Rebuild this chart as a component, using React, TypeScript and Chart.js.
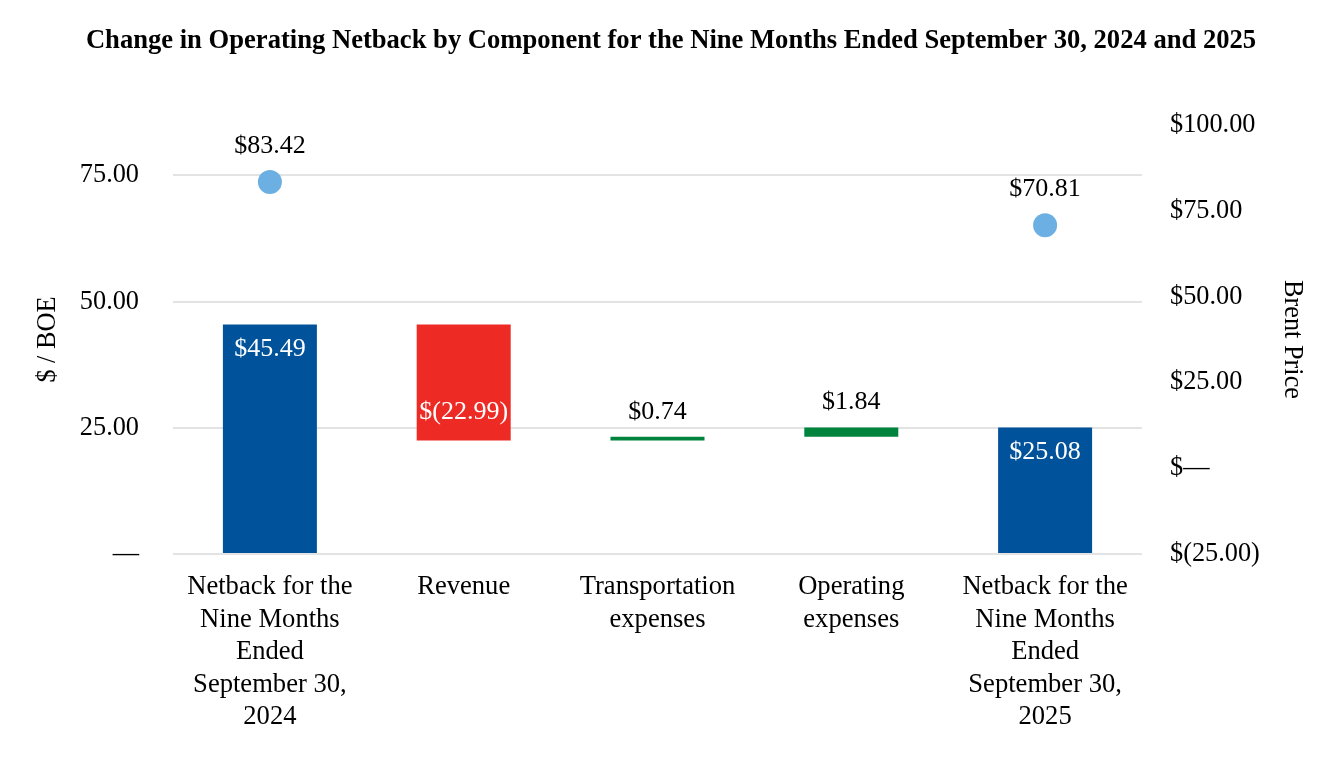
import React, { useEffect, useRef } from "react";
import { Chart, registerables } from "chart.js";

Chart.register(...registerables);

const TITLE = "Change in Operating Netback by Component for the Nine Months Ended September 30, 2024 and 2025";
const categories: string[][] = [
  ["Netback for the", "Nine Months", "Ended", "September 30,", "2024"],
  ["Revenue"],
  ["Transportation", "expenses"],
  ["Operating", "expenses"],
  ["Netback for the", "Nine Months", "Ended", "September 30,", "2025"],
];
const startNetback = 45.49;
const componentChanges = [-22.99, 0.74, 1.84];
const endNetback = 25.08;
const brentPrice: (number | null)[] = [83.42, null, null, null, 70.81];
const barColors = ["#00529B", "#EE2A24", "#00843D", "#00843D", "#00529B"];
const leftTicks = [0, 25, 50, 75];
const rightTicks = [-25, 0, 25, 50, 75, 100];

const FONT = '"Liberation Serif", "Times New Roman", serif';

function fmtMoney(v: number): string {
  if (v === 0) return "$—";
  if (v < 0) return `$(${Math.abs(v).toFixed(2)})`;
  return `$${v.toFixed(2)}`;
}

export default function App() {
  const ref = useRef<HTMLCanvasElement | null>(null);

  useEffect(() => {
    document.body.style.margin = "0";
    const canvas = ref.current;
    if (!canvas) return;

    // floating ranges for the waterfall
    const ranges: [number, number][] = [[0, startNetback]];
    const barValues: number[] = [startNetback];
    let run = startNetback;
    componentChanges.forEach((c) => {
      const next = Math.round((run + c) * 100) / 100;
      ranges.push([Math.min(run, next), Math.max(run, next)]);
      barValues.push(c);
      run = next;
    });
    ranges.push([0, endNetback]);
    barValues.push(endNetback);

    const labelPlugin = {
      id: "labels",
      afterDatasetsDraw(chart: any) {
        const ctx = chart.ctx;
        ctx.save();
        ctx.font = `26px ${FONT}`;
        ctx.textAlign = "center";
        ctx.textBaseline = "middle";
        const barMeta = chart.getDatasetMeta(0);
        barMeta.data.forEach((el: any, i: number) => {
          const top = Math.min(el.y, el.base);
          const bottom = Math.max(el.y, el.base);
          const txt = fmtMoney(barValues[i]);
          if (i === 0 || i === categories.length - 1) {
            ctx.fillStyle = "#ffffff";
            ctx.fillText(txt, el.x, top + 25);
          } else if (barValues[i] < 0) {
            ctx.fillStyle = "#ffffff";
            ctx.fillText(txt, el.x, bottom - 28);
          } else {
            ctx.fillStyle = "#000000";
            ctx.fillText(txt, el.x, top - 25);
          }
        });
        const pMeta = chart.getDatasetMeta(1);
        pMeta.data.forEach((el: any, i: number) => {
          const v = brentPrice[i];
          if (v === null || v === undefined) return;
          ctx.fillStyle = "#000000";
          ctx.fillText(fmtMoney(v), el.x, el.y - 36);
        });
        // title
        ctx.font = `bold 26.6px ${FONT}`;
        ctx.fillStyle = "#000000";
        ctx.fillText(TITLE, 671, 41);
        ctx.restore();
      },
    };

    const chart = new Chart(canvas, {
      data: {
        labels: categories as any,
        datasets: [
          {
            type: "bar",
            data: ranges as any,
            backgroundColor: barColors,
            borderWidth: 0,
            categoryPercentage: 1,
            barPercentage: 0.485,
            yAxisID: "y",
            order: 2,
          },
          {
            type: "line",
            data: brentPrice as any,
            showLine: false,
            pointRadius: 12,
            pointHoverRadius: 12,
            pointBackgroundColor: "#6CB0E3",
            pointBorderWidth: 0,
            borderColor: "#6CB0E3",
            yAxisID: "y2",
            order: 1,
          },
        ],
      },
      options: {
        animation: false,
        responsive: true,
        maintainAspectRatio: false,
        layout: { padding: { top: 125, left: 0, right: 0, bottom: 0 } },
        plugins: {
          legend: { display: false },
          tooltip: { enabled: false },
          title: { display: false },
        },
        scales: {
          x: {
            grid: { display: false, drawTicks: false },
            border: { display: false },
            ticks: {
              color: "#000",
              padding: 17,
              maxRotation: 0,
              autoSkip: false,
              font: { family: FONT, size: 26.6, lineHeight: 1.22 },
            },
            afterFit(scale: any) {
              scale.height = 206;
            },
          },
          y: {
            position: "left",
            min: 0,
            max: 85,
            afterBuildTicks(axis: any) {
              axis.ticks = leftTicks.map((v) => ({ value: v }));
            },
            grid: { color: "#E3E3E3", lineWidth: 2, drawTicks: false },
            border: { display: false },
            ticks: {
              color: "#000",
              padding: 34,
              font: { family: FONT, size: 26.3 },
              callback: (v: any) => (Number(v) === 0 ? "—" : Number(v).toFixed(2)),
            },
            title: {
              display: true,
              text: "$ / BOE",
              color: "#000",
              font: { family: FONT, size: 26.3, lineHeight: 1.2 },
              padding: { top: 32, bottom: 0 },
            },
            afterFit(scale: any) {
              scale.width = 173;
            },
          },
          y2: {
            position: "right",
            min: -25,
            max: 100,
            afterBuildTicks(axis: any) {
              axis.ticks = rightTicks.map((v) => ({ value: v }));
            },
            grid: { display: false, drawTicks: false },
            border: { display: false },
            ticks: {
              color: "#000",
              padding: 28,
              font: { family: FONT, size: 26.3 },
              callback: (v: any) => fmtMoney(Number(v)),
            },
            title: {
              display: true,
              text: "Brent Price",
              color: "#000",
              font: { family: FONT, size: 26.3, lineHeight: 1.2 },
              padding: { top: 36, bottom: 0 },
            },
            afterFit(scale: any) {
              scale.width = 202;
            },
          },
        },
      },
      plugins: [labelPlugin],
    });

    return () => {
      chart.destroy();
    };
  }, []);

  return (
    <div style={{ position: "relative", width: "1344px", height: "760px", background: "#fff" }}>
      <canvas ref={ref} />
    </div>
  );
}
